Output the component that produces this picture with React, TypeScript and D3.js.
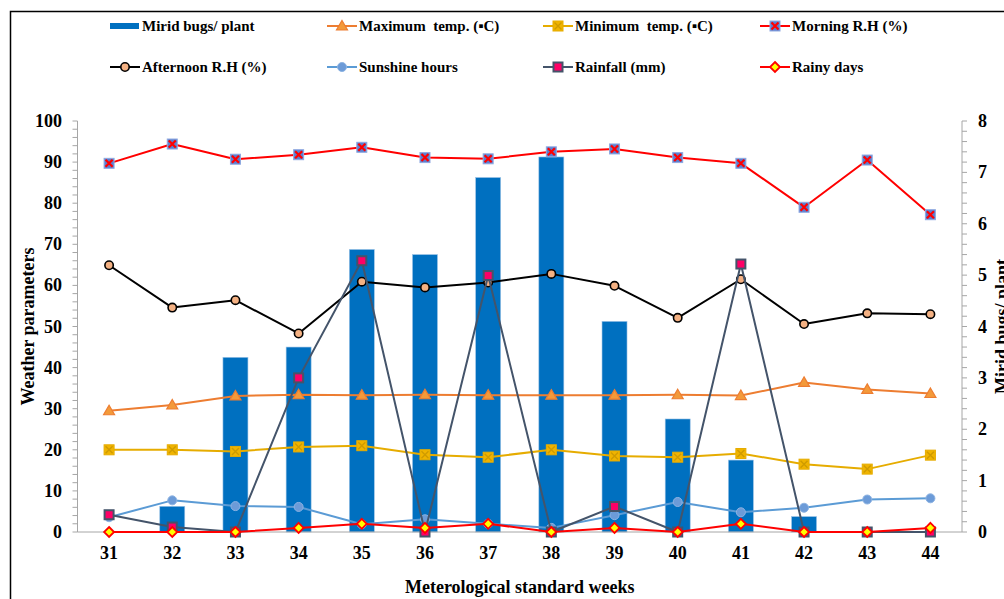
import * as d3 from 'd3';

// Meteorological standard weeks
const weeks = ['31', '32', '33', '34', '35', '36', '37', '38', '39', '40', '41', '42', '43', '44'];

// Right axis (bars)
const miridBugs = [0, 0.5, 3.4, 3.6, 5.5, 5.4, 6.9, 7.3, 4.1, 2.2, 1.4, 0.3, 0, 0];

// Left axis (lines)
const maxTemp = [29.5, 30.9, 33.1, 33.4, 33.3, 33.4, 33.3, 33.3, 33.3, 33.4, 33.2, 36.4, 34.7, 33.7];
const minTemp = [20.0, 20.0, 19.6, 20.7, 21.0, 18.8, 18.2, 20.0, 18.5, 18.2, 19.1, 16.5, 15.3, 18.7];
const morningRH = [89.7, 94.4, 90.7, 91.8, 93.6, 91.1, 90.8, 92.5, 93.2, 91.1, 89.7, 79.0, 90.5, 77.2];
const afternoonRH = [64.9, 54.6, 56.4, 48.3, 60.9, 59.5, 60.7, 62.8, 59.9, 52.1, 61.5, 50.6, 53.2, 53.0];
const sunshine = [3.6, 7.7, 6.3, 6.1, 1.9, 3.1, 2.0, 1.0, 4.1, 7.3, 4.8, 5.9, 7.9, 8.2];
const rainfall = [4.2, 1.2, 0, 37.5, 66.0, 0, 62.4, 0, 6.2, 0, 65.2, 0, 0, 0];
const rainyDays = [0, 0, 0, 1, 2, 1, 2, 0, 1, 0, 2, 0, 0, 1];

const leftTicks = [0, 10, 20, 30, 40, 50, 60, 70, 80, 90, 100];
const rightTicks = [0, 1, 2, 3, 4, 5, 6, 7, 8];

type MarkerKind = 'triangle' | 'goldSquare' | 'crossSquare' | 'ringCircle' | 'blueCircle' | 'pinkSquare' | 'diamond';

interface LineSeries {
    name: string;
    values: number[];
    color: string;
    marker: MarkerKind;
}

const lineSeries: LineSeries[] = [
    { name: 'Maximum  temp. (\u25AAC)', values: maxTemp, color: '#ED7D31', marker: 'triangle' },
    { name: 'Minimum  temp. (\u25AAC)', values: minTemp, color: '#E6AC00', marker: 'goldSquare' },
    { name: 'Morning R.H (%)', values: morningRH, color: '#FF0000', marker: 'crossSquare' },
    { name: 'Afternoon R.H (%)', values: afternoonRH, color: '#000000', marker: 'ringCircle' },
    { name: 'Sunshine hours', values: sunshine, color: '#5B9BD5', marker: 'blueCircle' },
    { name: 'Rainfall (mm)', values: rainfall, color: '#44546A', marker: 'pinkSquare' },
    { name: 'Rainy days', values: rainyDays, color: '#FF0000', marker: 'diamond' },
];

const FONT = '"Liberation Serif", "Times New Roman", serif';

function Marker({ kind, x, y }: { kind: MarkerKind; x: number; y: number }) {
    switch (kind) {
        case 'triangle':
            return <path d={`M${x},${y - 5.5}L${x + 5.5},${y + 4}L${x - 5.5},${y + 4}Z`} fill="#F39A3A" stroke="#ED7D31" strokeWidth={1.2} />;
        case 'goldSquare':
            return (
                <g>
                    <rect x={x - 5} y={y - 5} width={10} height={10} fill="#F0B400" stroke="#E6AC00" strokeWidth={1} />
                    <path d={`M${x - 3.5},${y - 3.5}L${x + 3.5},${y + 3.5}M${x + 3.5},${y - 3.5}L${x - 3.5},${y + 3.5}`} stroke="#CF9B00" strokeWidth={1.4} />
                </g>
            );
        case 'crossSquare':
            return (
                <g>
                    <rect x={x - 5} y={y - 5} width={10} height={10} fill="#5B7FD0" stroke="#8FA9E0" strokeWidth={1} />
                    <path d={`M${x - 3.5},${y - 3.5}L${x + 3.5},${y + 3.5}M${x + 3.5},${y - 3.5}L${x - 3.5},${y + 3.5}`} stroke="#FF0000" strokeWidth={2.2} />
                </g>
            );
        case 'ringCircle':
            return <circle cx={x} cy={y} r={4.2} fill="#F4B183" stroke="#000" strokeWidth={1.6} />;
        case 'blueCircle':
            return <circle cx={x} cy={y} r={4.5} fill="#6C9BD8" stroke="#8DB3E2" strokeWidth={1} />;
        case 'pinkSquare':
            return <rect x={x - 4.5} y={y - 4.5} width={9} height={9} fill="#FF0066" stroke="#44546A" strokeWidth={2} />;
        case 'diamond':
            return <path d={`M${x},${y - 5}L${x + 5},${y}L${x},${y + 5}L${x - 5},${y}Z`} fill="#FFFF00" stroke="#FF0000" strokeWidth={1.8} />;
    }
}

export default function App() {
    const width = 1004;
    const height = 599;
    const plot = { left: 77.5, right: 962, top: 121, bottom: 532 };

    const x = d3.scaleBand<string>().domain(weeks).range([plot.left, plot.right]);
    const cx = (w: string) => (x(w) ?? 0) + x.bandwidth() / 2;
    const yL = d3.scaleLinear().domain([0, 100]).range([plot.bottom, plot.top]);
    const yR = d3.scaleLinear().domain([0, 8]).range([plot.bottom, plot.top]);

    const barWidth = 25;
    const axisColor = '#A6A6A6';

    const lineGen = d3.line<number>()
        .x((_, i) => cx(weeks[i]))
        .y(d => yL(d));

    // legend layout: 4 columns, 2 rows
    const legendCols = [110, 327, 543, 760];
    const legendRows = [26, 67];
    const legendItems = [
        { name: 'Mirid bugs/ plant', bar: true, series: null as LineSeries | null },
        ...lineSeries.map(s => ({ name: s.name, bar: false, series: s as LineSeries | null })),
    ];

    const leftMinor = d3.range(0, 101, 2);
    const rightMinor = d3.range(0, 41, 1).map(v => v / 5);

    return (
        <svg width={width} height={height} style={{ position: 'absolute', left: 0, top: 0, background: '#fff' }} fontFamily={FONT}>
            <rect x={10.5} y={11.5} width={1100} height={700} fill="none" stroke="#000" strokeWidth={1.5} />

            {/* legend */}
            {legendItems.map((item, i) => {
                const lx = legendCols[i % 4];
                const ly = legendRows[Math.floor(i / 4)];
                return (
                    <g key={item.name}>
                        {item.bar ? (
                            <rect x={lx} y={ly - 3} width={29} height={6} fill="#0070C0" />
                        ) : (
                            <g>
                                <line x1={lx} x2={lx + 30} y1={ly} y2={ly} stroke={item.series!.color} strokeWidth={2} />
                                <Marker kind={item.series!.marker} x={lx + 15} y={ly} />
                            </g>
                        )}
                        <text x={lx + 32} y={ly + 5} fontSize={15} fontWeight="bold" style={{ whiteSpace: 'pre' }}>
                            {item.name}
                        </text>
                    </g>
                );
            })}

            {/* left axis */}
            <line x1={plot.left} x2={plot.left} y1={plot.top} y2={plot.bottom} stroke={axisColor} />
            {leftMinor.map(v => (
                <line key={v} x1={plot.left - 5} x2={plot.left} y1={yL(v)} y2={yL(v)} stroke={axisColor} />
            ))}
            {leftTicks.map(v => (
                <text key={v} x={62} y={yL(v) + 6} textAnchor="end" fontSize={18} fontWeight="bold">{v}</text>
            ))}
            <text transform={`translate(34,${(plot.top + plot.bottom) / 2}) rotate(-90)`} textAnchor="middle" fontSize={18} fontWeight="bold">
                Weather parameters
            </text>

            {/* right axis */}
            <line x1={plot.right} x2={plot.right} y1={plot.top} y2={plot.bottom} stroke={axisColor} />
            {rightMinor.map(v => (
                <line key={v} x1={plot.right} x2={plot.right + 5} y1={yR(v)} y2={yR(v)} stroke={axisColor} />
            ))}
            {rightTicks.map(v => (
                <text key={v} x={978} y={yR(v) + 6} fontSize={18} fontWeight="bold">{v}</text>
            ))}
            <text transform={`translate(1008,${(plot.top + plot.bottom) / 2}) rotate(-90)`} textAnchor="middle" fontSize={18} fontWeight="bold">
                Mirid bugs/ plant
            </text>

            {/* bars */}
            {miridBugs.map((v, i) => v > 0 && (
                <rect
                    key={weeks[i]}
                    x={cx(weeks[i]) - barWidth / 2}
                    y={yR(v)}
                    width={barWidth}
                    height={yR(0) - yR(v)}
                    fill="#0070C0"
                    stroke="#9DC3E6"
                    strokeWidth={0.6}
                />
            ))}

            {/* x axis */}
            <line x1={plot.left} x2={plot.right} y1={plot.bottom} y2={plot.bottom} stroke={axisColor} />
            {weeks.map(w => (
                <text key={w} x={cx(w)} y={559} textAnchor="middle" fontSize={18} fontWeight="bold">{w}</text>
            ))}
            <text x={(plot.left + plot.right) / 2} y={593} textAnchor="middle" fontSize={18} fontWeight="bold">
                Meterological standard weeks
            </text>

            {/* lines */}
            {lineSeries.map(s => (
                <g key={s.name}>
                    <path d={lineGen(s.values) ?? ''} fill="none" stroke={s.color} strokeWidth={2} strokeLinejoin="round" />
                    {s.values.map((v, i) => (
                        <Marker key={i} kind={s.marker} x={cx(weeks[i])} y={yL(v)} />
                    ))}
                </g>
            ))}
        </svg>
    );
}
